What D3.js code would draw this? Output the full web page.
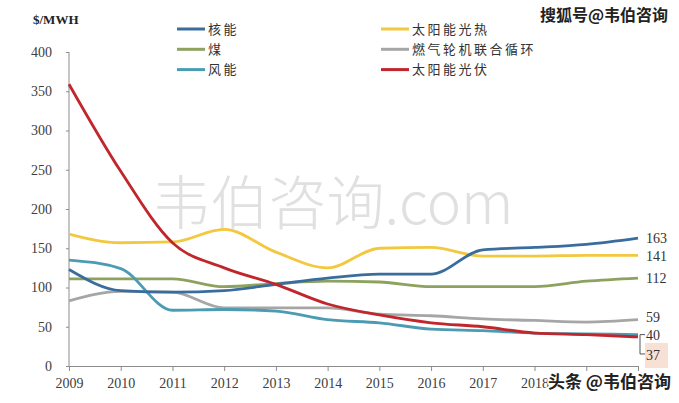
<!DOCTYPE html>
<html>
<head>
<meta charset="utf-8">
<script src="https://cdn.jsdelivr.net/npm/d3@7"></script>
<style>
  body { margin: 0; background: #fff; }
  svg { display: block; }
  .tick text { font-family: "Liberation Serif", "DejaVu Serif", serif; font-size: 14px; fill: #404040; }
</style>
</head>
<body>
<div id="chart"></div>
<script>
// years on the x axis
var years = [2009, 2010, 2011, 2012, 2013, 2014, 2015, 2016, 2017, 2018, 2019, 2020];
var yTicks = [0, 50, 100, 150, 200, 250, 300, 350, 400];

// levelized cost, $/MWH
var nuclear      = [123, 96, 94, 96, 104, 112, 117, 117, 148, 151, 155, 163];
var solarThermal = [168, 157, 158, 174, 145, 125, 150, 151, 140, 140, 141, 141];
var coal         = [111, 111, 111, 101, 105, 108, 107, 101, 101, 101, 108, 112];
var gasCC        = [83, 95, 94, 74, 74, 74, 66, 64, 60, 58, 56, 59];
var wind         = [135, 124, 71, 72, 70, 59, 55, 47, 45, 42, 41, 40];
var solarPV      = [359, 248, 157, 125, 104, 79, 65, 55, 50, 42, 40, 37];

var seriesNames = ["核能", "煤", "风能", "太阳能光热", "燃气轮机联合循环", "太阳能光伏"];
var seriesColors = ["#3a6d9e", "#8ca25e", "#4b9cb2", "#f2c83e", "#a6a6a6", "#c0262c"];
var seriesValues = [nuclear, coal, wind, solarThermal, gasCC, solarPV];

var W = 679, H = 403;
var svg = d3.select("#chart").append("svg").attr("width", W).attr("height", H);

var x = d3.scalePoint().domain(years).range([69, 638]);
var y = d3.scaleLinear().domain([0, 400]).range([366, 52]);

// big watermark behind the lines
svg.append("text")
    .attr("x", 333).attr("y", 224)
    .attr("text-anchor", "middle")
    .style("font-family", "Noto Sans CJK SC, sans-serif")
    .style("font-size", "58px")
    .style("fill", "#e0e0e0")
    .style("font-weight", 300)
    .text("韦伯咨询.com");

// axes (2019 and 2020 labels sit under the site mark in the source)
var yAxis = svg.append("g")
    .attr("transform", "translate(69,0)")
    .call(d3.axisLeft(y).tickValues(yTicks).tickSize(3).tickPadding(14));
var xAxis = svg.append("g")
    .attr("transform", "translate(0,366)")
    .call(d3.axisBottom(x).tickSize(5).tickPadding(7).tickSizeOuter(0)
        .tickFormat(function (d) { return d > 2018 ? "" : d; }));
[yAxis, xAxis].forEach(function (g) {
    g.select(".domain").attr("stroke", "#8c8c8c");
    g.selectAll(".tick line").attr("stroke", "#8c8c8c");
});
yAxis.select(".domain").attr("d", "M0," + y(400) + "V" + y(0));

// lines
var line = d3.line()
    .x(function (d, i) { return x(years[i]); })
    .y(function (d) { return y(d); })
    .curve(d3.curveMonotoneX);

var order = [4, 1, 3, 2, 0, 5];
order.forEach(function (k) {
    svg.append("path")
        .attr("d", line(seriesValues[k]))
        .attr("fill", "none")
        .attr("stroke", seriesColors[k])
        .attr("stroke-width", 2.8)
        .attr("stroke-linejoin", "round");
});

// end labels
var labelFont = "Liberation Serif, DejaVu Serif, serif";
var ends = [
    { v: nuclear[11], dy: 0 },
    { v: solarThermal[11], dy: 1 },
    { v: coal[11], dy: 0 },
    { v: gasCC[11], dy: -3 },
    { v: wind[11], dy: 0 },
    { v: solarPV[11], dy: 18 }
];

svg.append("rect")
    .attr("x", 645).attr("y", y(solarPV[11]) + 6)
    .attr("width", 23).attr("height", 25)
    .attr("fill", "#f9e0d5");

svg.append("path")
    .attr("d", "M645," + y(wind[11]) + "H640V" + (y(solarPV[11]) + 17) + "H645")
    .attr("fill", "none")
    .attr("stroke", "#555")
    .attr("stroke-width", 1);

svg.selectAll(".endlbl")
    .data(ends)
    .enter()
    .append("text")
    .attr("class", "endlbl")
    .attr("x", 646)
    .attr("y", function (d) { return y(d.v) + d.dy; })
    .attr("dy", "0.35em")
    .style("font-family", labelFont)
    .style("font-size", "14px")
    .style("fill", "#333")
    .text(function (d) { return d.v; });

// unit label
svg.append("text")
    .attr("x", 33).attr("y", 24)
    .style("font-family", labelFont)
    .style("font-size", "13px")
    .style("font-weight", "bold")
    .style("fill", "#222")
    .text("$/MWH");

// legend
var legend = svg.selectAll(".lg")
    .data(seriesNames)
    .enter()
    .append("g")
    .attr("class", "lg")
    .attr("transform", function (d, i) {
        var col = Math.floor(i / 3), row = i % 3;
        return "translate(" + (col ? 381 : 177) + "," + (29 + row * 20.3) + ")";
    });
legend.append("line")
    .attr("x1", 0).attr("x2", 28)
    .attr("stroke", function (d, i) { return seriesColors[i]; })
    .attr("stroke-width", 3);
legend.append("text")
    .attr("x", 31).attr("dy", "0.36em")
    .style("font-family", "Noto Sans CJK SC, sans-serif")
    .style("font-size", "13px")
    .style("letter-spacing", "2.5px")
    .style("fill", "#333")
    .text(function (d) { return d; });

// site watermarks
function mark(txt, xx, yy, size) {
    svg.append("text")
        .attr("x", xx).attr("y", yy)
        .style("font-family", "Noto Sans CJK SC, sans-serif")
        .style("font-size", size + "px")
        .style("font-weight", "bold")
        .style("fill", "#222")
        .style("stroke", "#fff")
        .style("stroke-width", 3)
        .style("paint-order", "stroke")
        .text(txt);
}
mark("搜狐号@韦伯咨询", 540, 21, 16);
mark("头条 @韦伯咨询", 548, 388, 17);
</script>
</body>
</html>
